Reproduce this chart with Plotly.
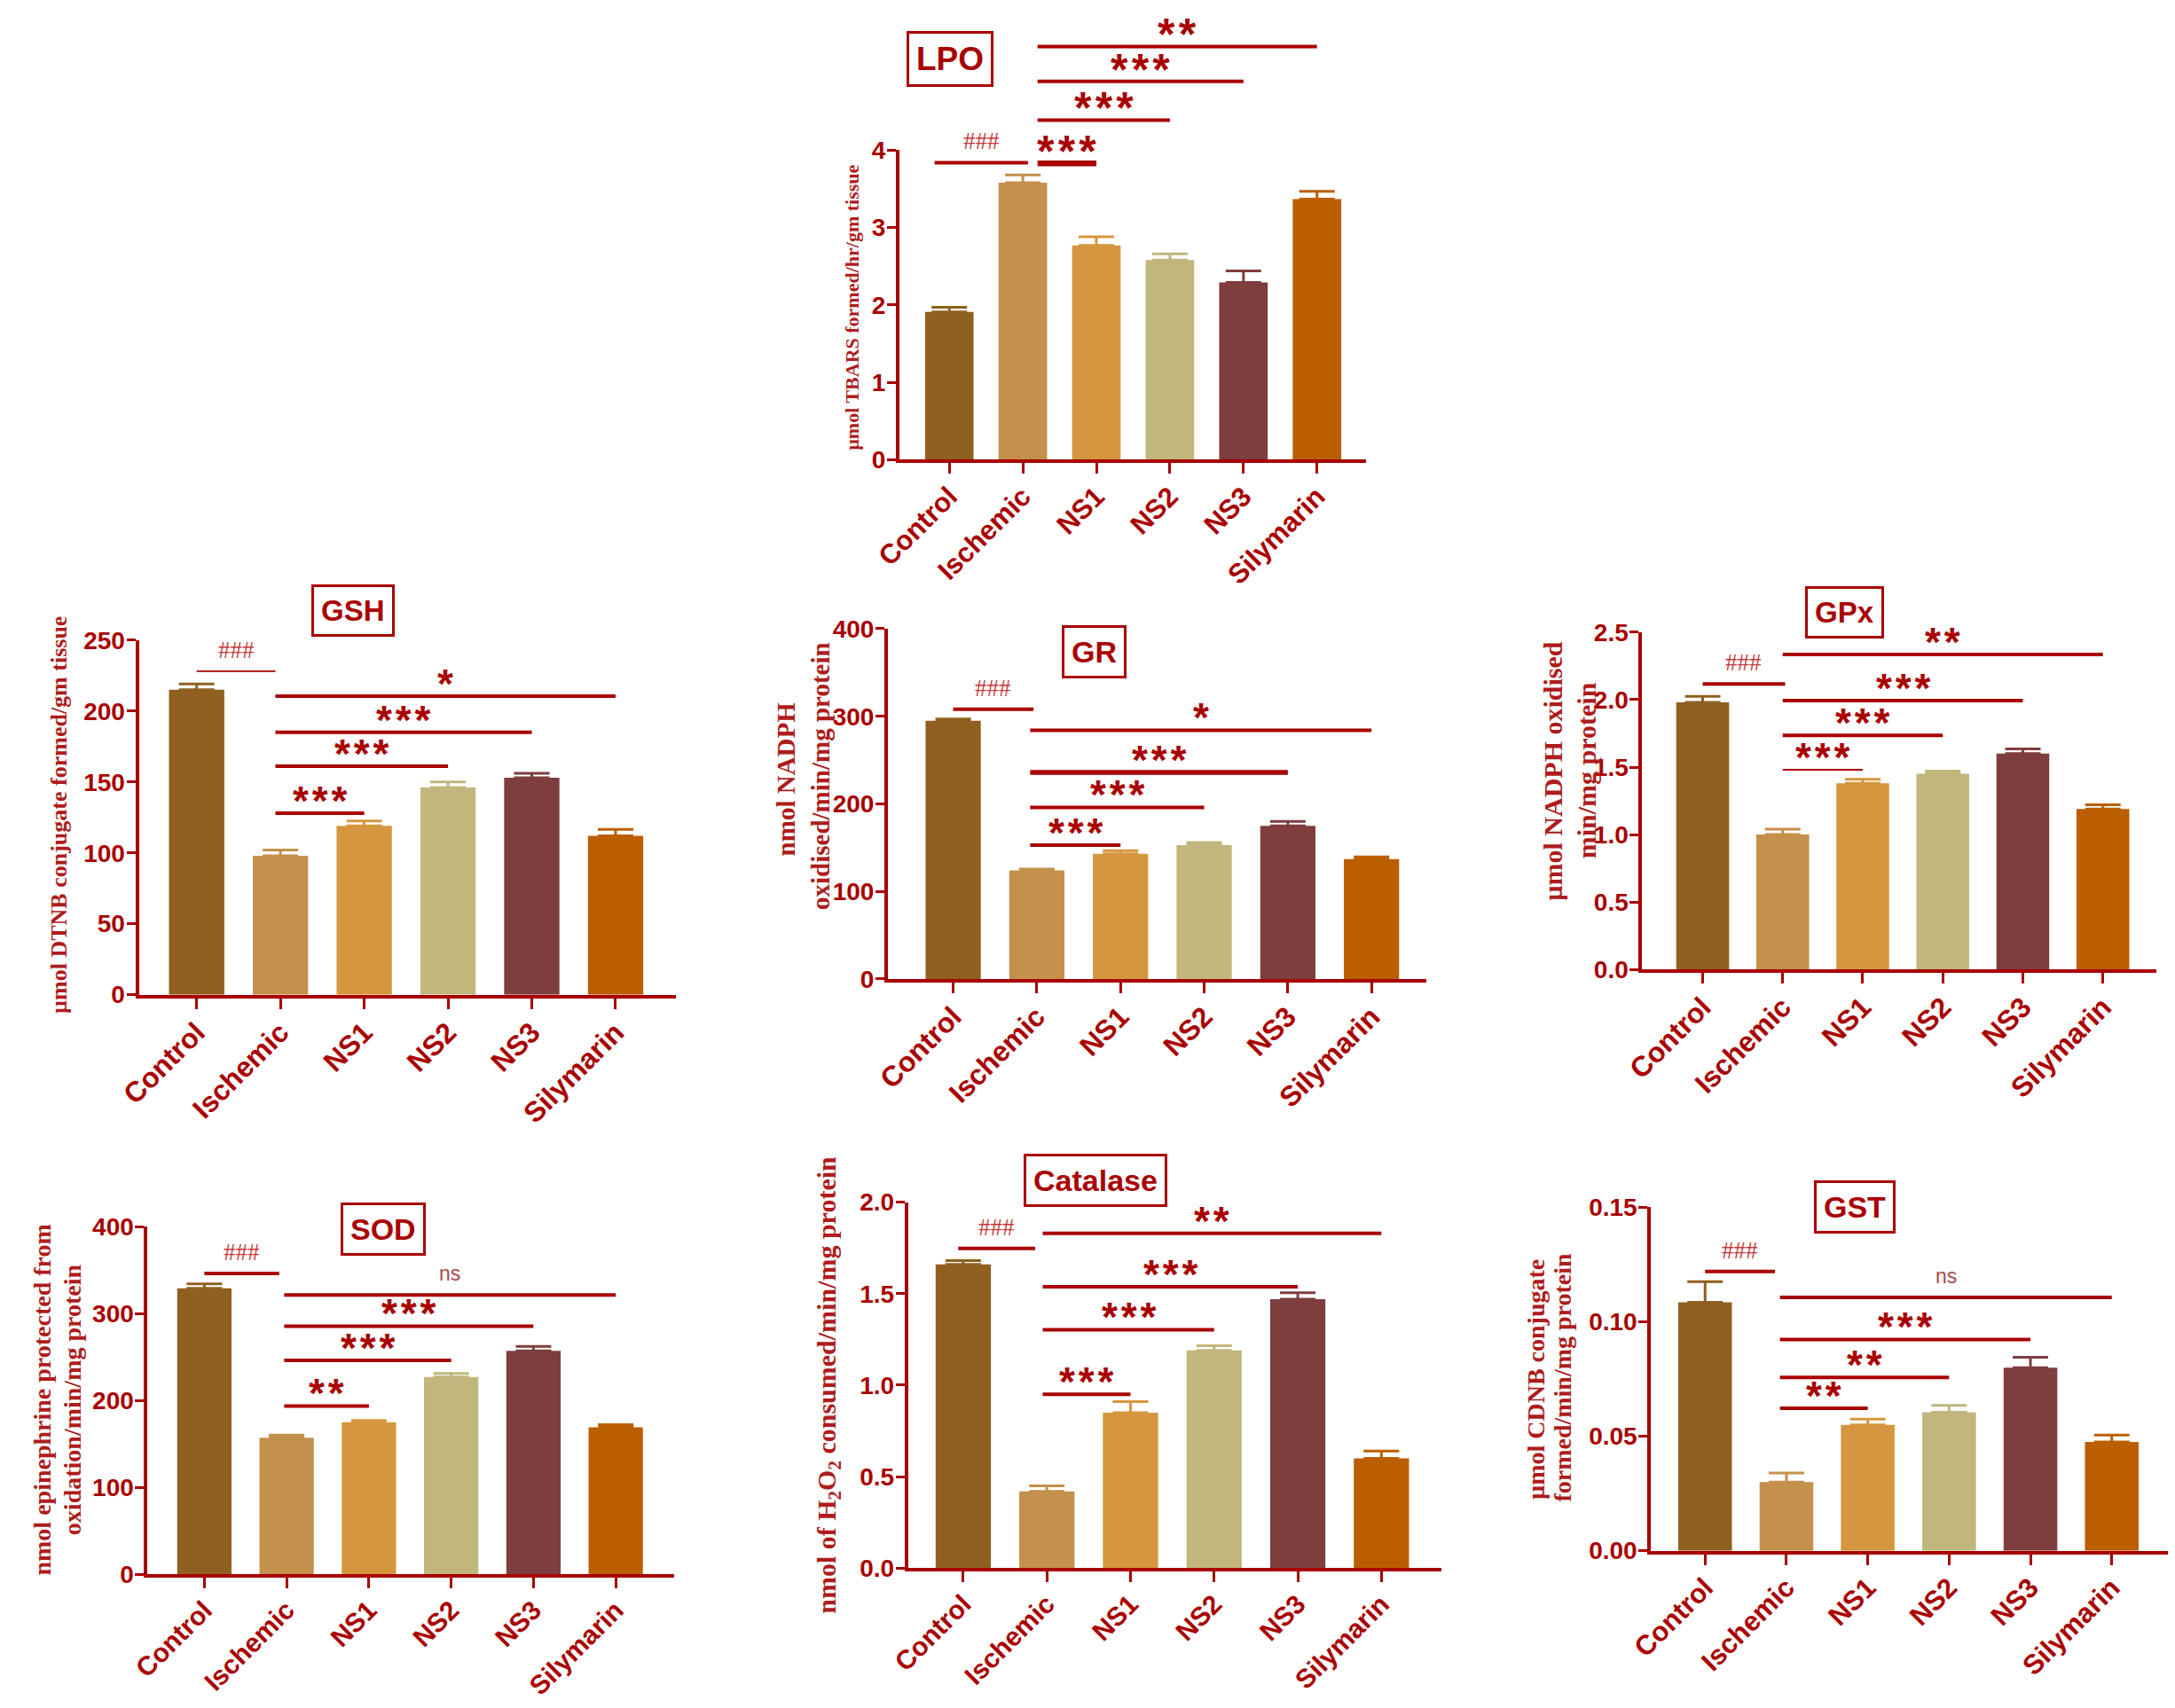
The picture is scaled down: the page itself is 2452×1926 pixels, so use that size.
import plotly.graph_objects as go

# page is 2452x1926; body keeps its default 8px margin, so the figure is 16px smaller
PAGE_W, PAGE_H, PAD = 2452, 1926, 8
W, H = PAGE_W - 2 * PAD, PAGE_H - 2 * PAD
RED = "#A90000"
LABEL_RED = "#AE1C1C"
SANS = "Liberation Sans, Arial, sans-serif"
SERIF = "Liberation Serif, Times New Roman, serif"

groups = ["Control", "Ischemic", "NS1", "NS2", "NS3", "Silymarin"]
bar_colors = ["#8F6020", "#C4904B", "#D6963F", "#C1B67C", "#7E3E3E", "#BB5E00"]

# mean / SEM per assay
lpo_mean = [1.91, 3.58, 2.77, 2.58, 2.29, 3.37]
lpo_sem = [0.06, 0.10, 0.11, 0.08, 0.15, 0.10]
gsh_mean = [215, 98, 119, 146, 153, 112]
gsh_sem = [4, 4, 3.5, 4, 3, 4.5]
gr_mean = [295, 124, 143, 153, 175, 137]
gr_sem = [2, 1.5, 3.5, 3, 5, 2.5]
gpx_mean = [1.98, 1.00, 1.38, 1.45, 1.60, 1.19]
gpx_sem = [0.045, 0.04, 0.03, 0.02, 0.035, 0.03]
sod_mean = [329, 157, 175, 227, 257, 169]
sod_sem = [5, 3, 2, 4, 5, 3]
cat_mean = [1.66, 0.42, 0.85, 1.19, 1.47, 0.60]
cat_sem = [0.02, 0.03, 0.06, 0.025, 0.035, 0.04]
gst_mean = [0.1085, 0.030, 0.055, 0.0605, 0.080, 0.0475]
gst_sem = [0.009, 0.004, 0.0025, 0.003, 0.0045, 0.003]

# significance brackets: (from group, to group, bracket height, label)
lpo_sig = [(0, 1, 3.84, "###"), (1, 2, 3.83, "***"), (1, 3, 4.39, "***"),
           (1, 4, 4.89, "***"), (1, 5, 5.34, "**")]
gsh_sig = [(0, 1, 228, "###"), (1, 2, 128, "***"), (1, 3, 161, "***"),
           (1, 4, 185, "***"), (1, 5, 210.5, "*")]
gr_sig = [(0, 1, 308, "###"), (1, 2, 153, "***"), (1, 3, 196, "***"),
          (1, 4, 236, "***"), (1, 5, 284, "*")]
gpx_sig = [(0, 1, 2.116, "###"), (1, 2, 1.48, "***"), (1, 3, 1.735, "***"),
           (1, 4, 1.993, "***"), (1, 5, 2.334, "**")]
sod_sig = [(0, 1, 346, "###"), (1, 2, 193.6, "**"), (1, 3, 246, "***"),
           (1, 4, 285.4, "***"), (1, 5, 321.4, "ns")]
cat_sig = [(0, 1, 1.747, "###"), (1, 2, 0.95, "***"), (1, 3, 1.303, "***"),
           (1, 4, 1.538, "***"), (1, 5, 1.829, "**")]
gst_sig = [(0, 1, 0.122, "###"), (1, 2, 0.0622, "**"), (1, 3, 0.0757, "**"),
           (1, 4, 0.0923, "***"), (1, 5, 0.1107, "ns")]

# a few bracket lines are drawn heavier / lighter in the original
line_width_override = {("LPO", 2): 6.5, ("GR", 4): 5.5, ("GSH", 1): 1.8, ("GPx", 2): 2}

# panel layout, in page pixels: axis box (left, right, top, bottom)
panels = [
    dict(title="LPO", mean=lpo_mean, sem=lpo_sem, sig=lpo_sig, ymax=4, dtick=1, fmt="d",
         box=(996, 1529, 157, 512), xr=(-0.68, 5.67), title_xy=(1054, 52), title_size=37,
         hash_off=(-0.2, 0.07), star_start=0.2, cat_size=31,
         ylab=[("µmol TBARS formed/hr/gm tissue", 942, 337, 22)]),
    dict(title="GSH", mean=gsh_mean, sem=gsh_sem, sig=gsh_sig, ymax=250, dtick=50, fmt="d",
         box=(128, 741, 719, 1126), xr=(-0.69, 5.72), title_xy=(372, 685), title_size=33,
         hash_off=(0, -0.06), star_start=-0.06, cat_size=32,
         ylab=[("µmol DTNB conjugate formed/gm tissue", 37, 920, 26)]),
    dict(title="GR", mean=gr_mean, sem=gr_sem, sig=gr_sig, ymax=400, dtick=100, fmt="d",
         box=(983, 1598, 706, 1108), xr=(-0.78, 5.66), title_xy=(1218, 733), title_size=34,
         hash_off=(0, -0.04), star_start=-0.08, cat_size=32,
         ylab=[("nmol NADPH", 867, 878, 29), ("oxidised/min/mg protein", 906, 875, 29)]),
    dict(title="GPx", mean=gpx_mean, sem=gpx_sem, sig=gpx_sig, ymax=2.5, dtick=0.5, fmt=".1f",
         box=(1844, 2431, 710, 1097), xr=(-0.755, 5.67), title_xy=(2075, 687), title_size=33,
         hash_off=(0, 0.03), star_start=0.0, cat_size=32,
         ylab=[("µmol NADPH oxidised", 1741, 869, 30), ("min/mg protein", 1780, 869, 30)]),
    dict(title="SOD", mean=sod_mean, sem=sod_sem, sig=sod_sig, ymax=400, dtick=100, fmt="d",
         box=(138, 739, 1392, 1791), xr=(-0.69, 5.71), title_xy=(407, 1395), title_size=34,
         hash_off=(0, -0.09), star_start=-0.03, cat_size=30,
         ylab=[("nmol epinephrine protected from", 18, 1591, 28),
               ("oxidation/min/mg protein", 52, 1590, 28)]),
    dict(title="Catalase", mean=cat_mean, sem=cat_sem, sig=cat_sig, ymax=2.0, dtick=0.5, fmt=".1f",
         box=(1006, 1615, 1364, 1784), xr=(-0.66, 5.72), title_xy=(1220, 1339), title_size=34,
         hash_off=(-0.06, -0.14), star_start=-0.05, cat_size=30,
         ylab=[("nmol of H<sub>2</sub>O<sub>2</sub> consumed/min/mg protein", 915, 1574, 30)]),
    dict(title="GST", mean=gst_mean, sem=gst_sem, sig=gst_sig, ymax=0.15, dtick=0.05, fmt=".2f",
         box=(1854, 2444, 1370, 1764), xr=(-0.665, 5.69), title_xy=(2087, 1370), title_size=34,
         hash_off=(0, -0.14), star_start=-0.08, cat_size=31,
         ylab=[("µmol CDNB conjugate", 1722, 1567, 28), ("formed/min/mg protein", 1753, 1565, 28)]),
]


def fx(v):
    return (v - PAD) / W


def fy(v):
    return 1 - (v - PAD) / H


fig = go.Figure()
shapes = []
annotations = []

for n, p in enumerate(panels, start=1):
    sfx = "" if n == 1 else str(n)
    left, right, top, bottom = p["box"]
    xdom = [fx(left), fx(right)]
    ydom = [fy(bottom), fy(top)]
    x0r, x1r = p["xr"]

    # helpers: data -> paper coords
    def px(x, xdom=xdom, x0r=x0r, x1r=x1r):
        return xdom[0] + (x - x0r) / (x1r - x0r) * (xdom[1] - xdom[0])

    def py(y, ydom=ydom, ymax=p["ymax"]):
        return ydom[0] + y / ymax * (ydom[1] - ydom[0])

    for g, m, s, c in zip(groups, p["mean"], p["sem"], bar_colors):
        fig.add_trace(go.Bar(
            x=[g], y=[m], xaxis="x" + sfx, yaxis="y" + sfx,
            width=0.66, marker=dict(color=c, line=dict(width=0)),
            error_y=dict(type="data", array=[s], arrayminus=[0], symmetric=False,
                         color=c, thickness=3, width=20),
            showlegend=False, hoverinfo="x+y",
        ))

    fig.update_layout(**{
        "xaxis" + sfx: dict(
            domain=xdom, anchor="y" + sfx, range=[x0r, x1r], type="category",
            showline=True, linecolor=RED, linewidth=4, showgrid=False, zeroline=False,
            ticks="outside", ticklen=12, tickwidth=3, tickcolor=RED, tickangle=-45,
            ticklabelstandoff=-5,
            tickfont=dict(family=SANS, size=p["cat_size"], color=RED, weight="bold"),
        ),
        "yaxis" + sfx: dict(
            domain=ydom, anchor="x" + sfx, range=[0, p["ymax"]],
            tickmode="linear", tick0=0, dtick=p["dtick"], tickformat=p["fmt"],
            showline=True, linecolor=RED, linewidth=4, showgrid=False, zeroline=False,
            ticks="outside", ticklen=10, tickwidth=3, tickcolor=RED,
            ticklabelstandoff=-4,
            tickfont=dict(family=SANS, size=28, color=RED, weight="bold"),
        ),
    })

    # boxed title
    tx, ty = p["title_xy"]
    annotations.append(dict(
        xref="paper", yref="paper", x=fx(tx), y=fy(ty), showarrow=False,
        text=p["title"], font=dict(family=SANS, size=p["title_size"], color=RED, weight="bold"),
        bordercolor=RED, borderwidth=3, borderpad=8, bgcolor="white",
        xanchor="center", yanchor="middle",
    ))

    # y-axis titles (serif, rotated)
    for text, lx, ly, fs in p["ylab"]:
        annotations.append(dict(
            xref="paper", yref="paper", x=fx(lx), y=fy(ly), showarrow=False,
            text=text, textangle=-90, xanchor="center", yanchor="middle",
            font=dict(family=SERIF, size=fs, color=LABEL_RED, weight="bold"),
        ))

    # significance brackets
    for i0, i1, yb, lab in p["sig"]:
        if lab == "###":
            xa, xb = i0 + p["hash_off"][0], i1 + p["hash_off"][1]
        else:
            xa, xb = i0 + p["star_start"], i1
        lw = line_width_override.get((p["title"], i1), 4)
        shapes.append(dict(type="line", xref="paper", yref="paper",
                           x0=px(xa), x1=px(xb), y0=py(yb), y1=py(yb),
                           line=dict(color=RED, width=lw)))
        if lab == "###":
            font = dict(family=SERIF, size=27, color="#C23A3A")
            shift = 24
            txt = lab
        elif lab == "ns":
            font = dict(family=SANS, size=23, color="#A84848")
            shift = 24
            txt = lab
        else:
            fs = 50 if p["title"] == "LPO" else 46
            font = dict(family=SANS, size=fs, color=RED, weight="bold")
            shift = 25 - 0.235 * fs
            txt = "\u200a".join(lab)
        annotations.append(dict(
            xref="paper", yref="paper", x=px((xa + xb) / 2), y=py(yb),
            text=txt, showarrow=False, xanchor="center", yanchor="middle",
            yshift=shift, font=font,
        ))

fig.update_layout(
    width=W, height=H, margin=dict(l=0, r=0, t=0, b=0),
    paper_bgcolor="white", plot_bgcolor="white",
    barmode="overlay", showlegend=False,
    shapes=shapes, annotations=annotations,
)

fig.write_html("out.html")
